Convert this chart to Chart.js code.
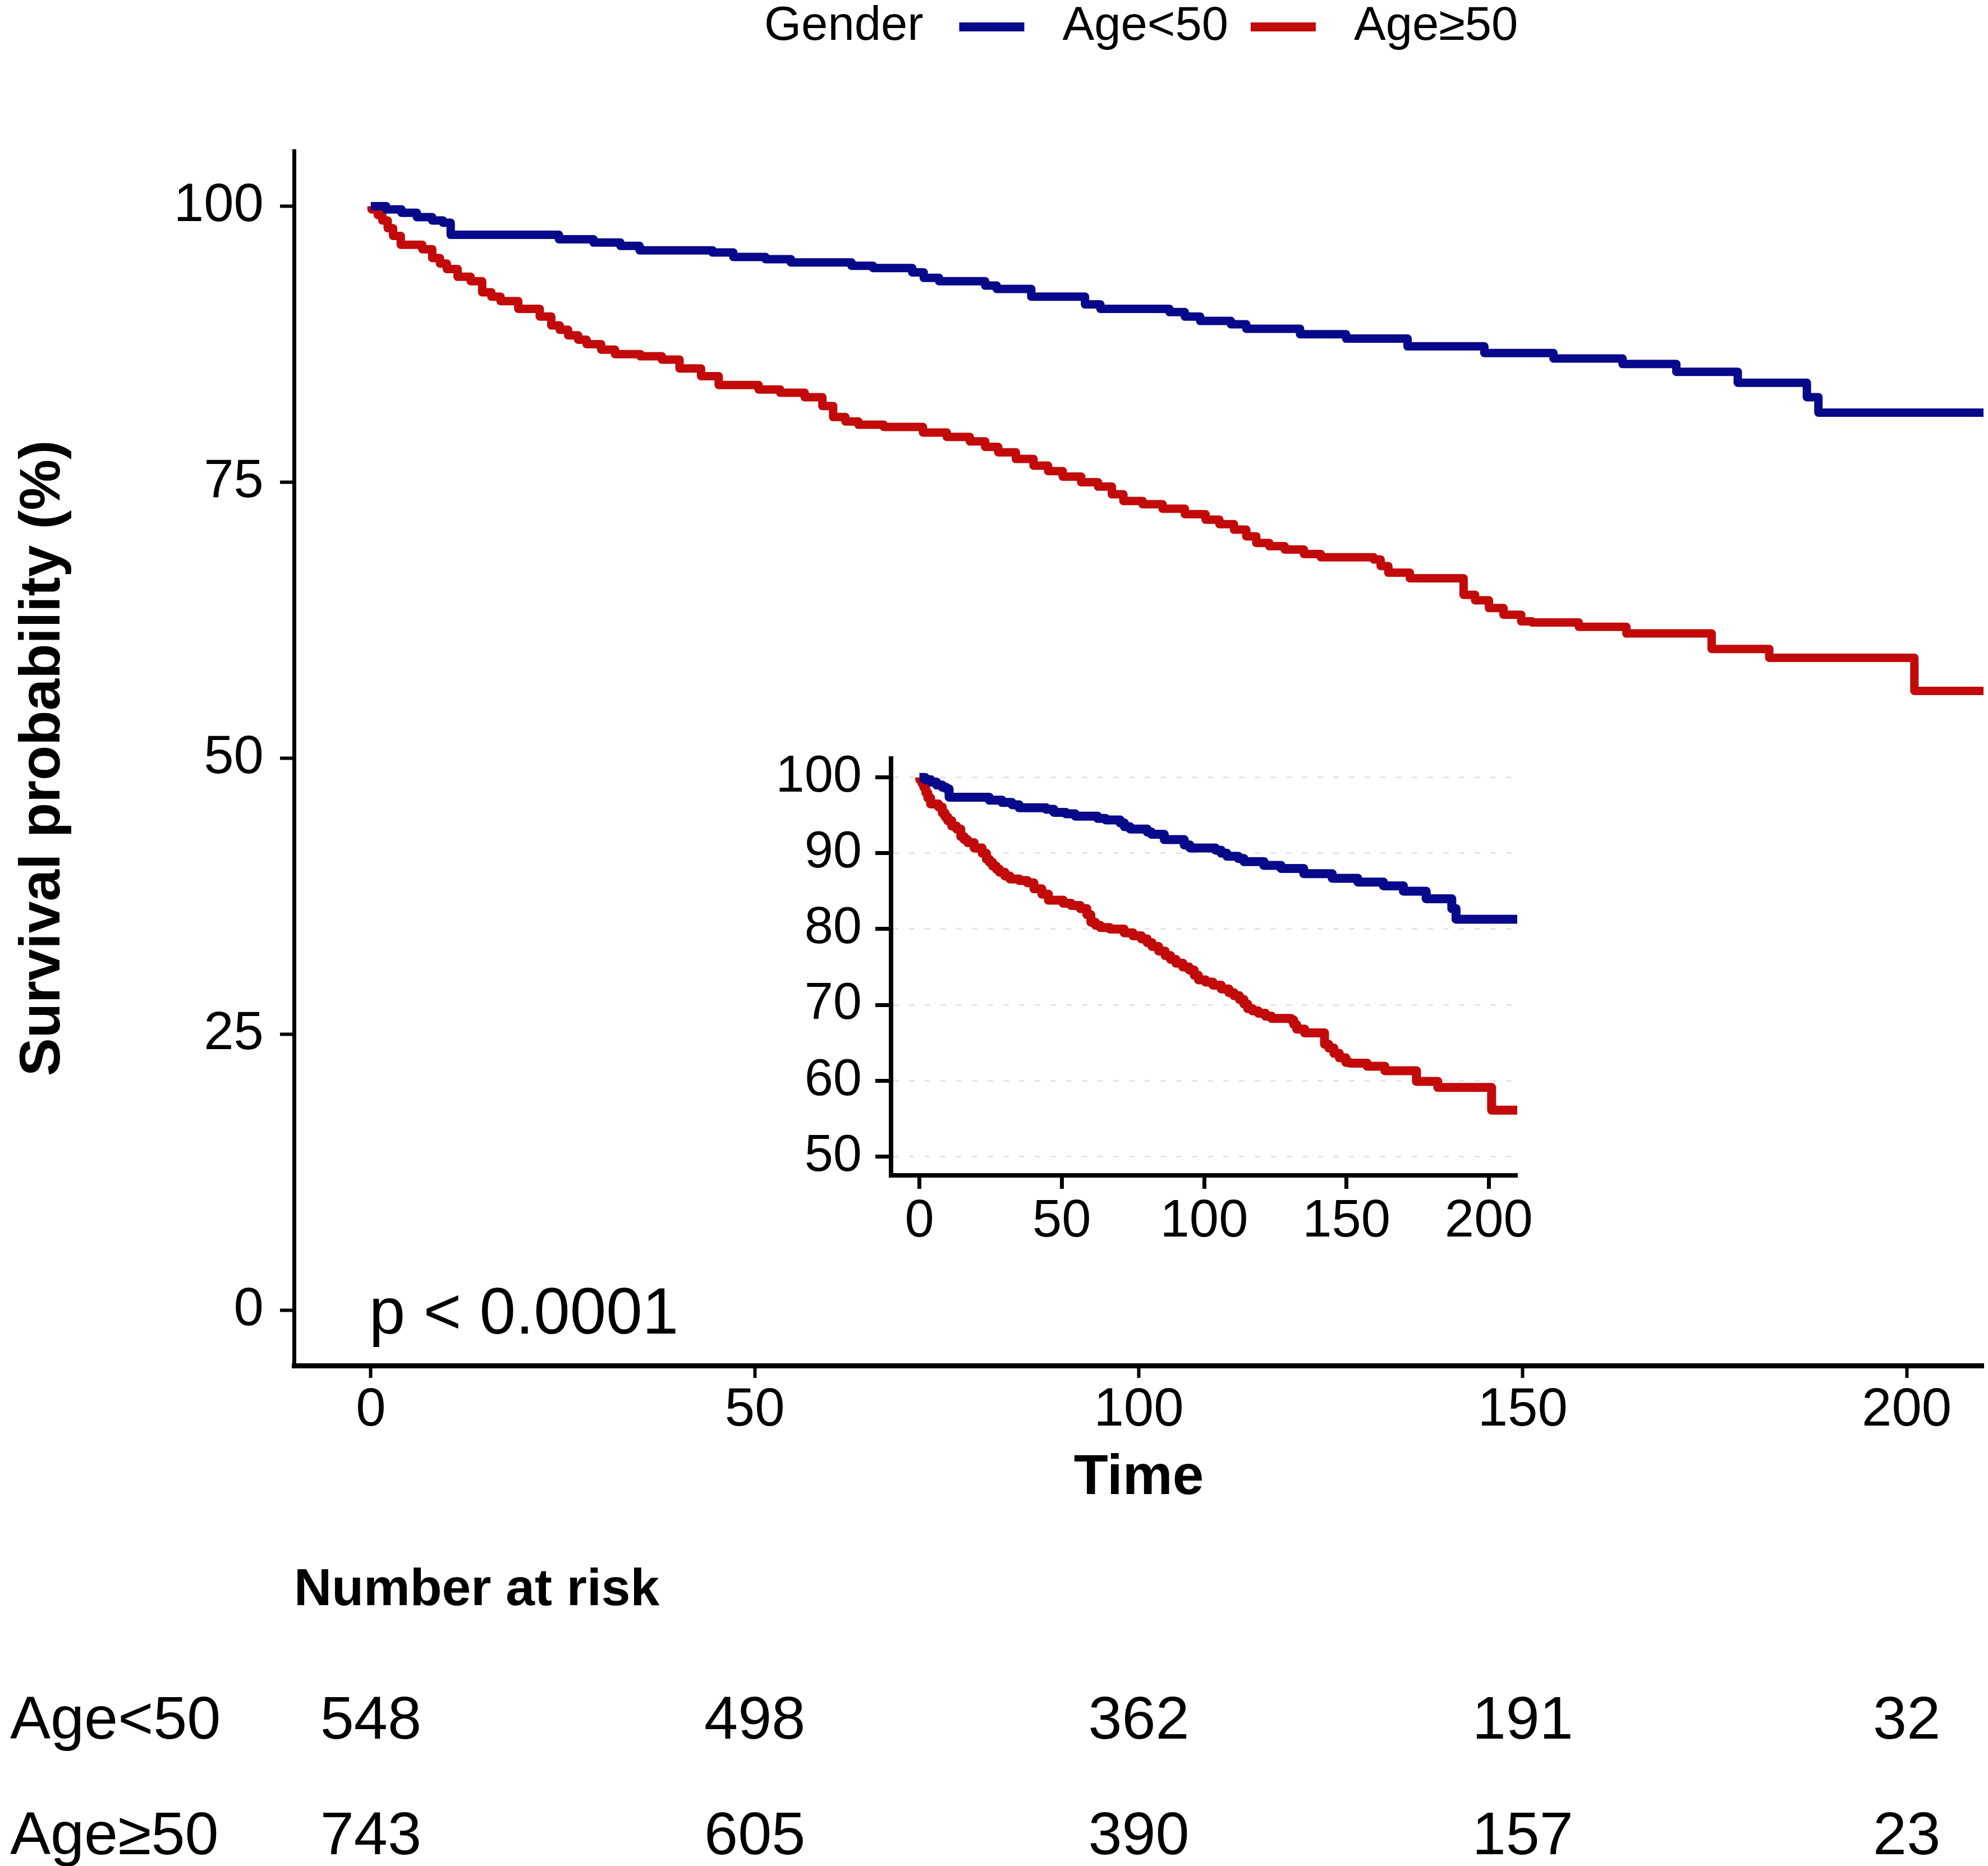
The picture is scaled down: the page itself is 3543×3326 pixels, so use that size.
<!DOCTYPE html>
<html>
<head>
<meta charset="utf-8">
<script src="https://cdn.jsdelivr.net/npm/chart.js@4.4.1/dist/chart.umd.min.js"></script>
<style>
  html, body { margin: 0; padding: 0; background: #fff; }
  #wrap { position: relative; width: 3543px; height: 3326px; }
  #main { position: absolute; left: 0; top: 0; }
  #inset { position: absolute; left: 1380px; top: 1300px; }
</style>
</head>
<body>
<div id="wrap">
  <canvas id="main" width="3543" height="3326"></canvas>
  <canvas id="inset" width="1420" height="950"></canvas>
</div>
<script>
// groups and colours
const groups = ["Age<50", "Age\u226550"];
const colors = ["#08088a", "#c20a0a"];
const legendTitle = "Gender";

// survival curves (time, survival %)
const blueTime = [0, 2, 4, 6, 8, 9.4, 10.4, 24.5, 29, 32.5, 35, 44.5, 47.2, 51.4, 54.7, 62.6, 65.4, 70.5, 72, 74,
  80, 81.5, 86, 93, 95, 104, 106, 108, 112, 114, 121, 127, 135, 145, 154, 163, 170, 178, 187, 188.5, 210];
const blueSurv = [100, 99.7, 99.4, 99.0, 98.7, 98.5, 97.4, 97.0, 96.7, 96.4, 96.0, 95.8, 95.4, 95.2, 94.9, 94.6, 94.4, 94.0, 93.5, 93.2,
  92.8, 92.5, 91.8, 91.1, 90.7, 90.4, 90.0, 89.6, 89.3, 88.9, 88.4, 88.0, 87.3, 86.7, 86.2, 85.7, 85.0, 84.0, 82.7, 81.3, 81.3];

const redTime = [0, 0.1, 0.9, 1.5, 2.2, 2.9, 3.9, 6.7, 8.0, 9.0, 9.9, 11.3, 13.0, 14.5, 15.7, 16.9, 19.2, 22.0, 23.5, 24.6,
  25.7, 27.0, 28.1, 30.0, 31.8, 35.1, 37.9, 40.2, 43.0, 45.3, 50.5, 53.3, 56.5, 58.8, 60.2, 61.8, 63.5, 66.8, 71.9, 75.0,
  78.0, 80.0, 81.7, 84.0, 86.3, 88.2, 90.1, 92.5, 94.7, 96.5, 98.0, 100.5, 103.1, 106.0, 108.7, 110.5, 112.4, 114.0, 115.3, 117.0,
  119.0, 121.5, 123.7, 130.6, 131.5, 132.5, 135.3, 142.3, 143.8, 145.6, 147.5, 149.8, 151.2, 157.3, 163.5, 174.6, 182.1, 201.0, 210];
const redSurv = [100, 99.7, 99.2, 98.7, 98.0, 97.3, 96.5, 96.1, 95.3, 94.8, 94.3, 93.6, 93.2, 92.2, 91.8, 91.4, 90.7, 90.0, 89.2, 88.8,
  88.3, 87.9, 87.5, 87.0, 86.6, 86.4, 86.1, 85.3, 84.6, 83.8, 83.4, 83.1, 82.7, 81.9, 80.9, 80.5, 80.2, 80.0, 79.5, 79.1,
  78.7, 78.2, 77.7, 77.1, 76.5, 76.0, 75.5, 75.0, 74.6, 73.9, 73.3, 73.0, 72.6, 72.1, 71.6, 71.2, 70.7, 70.1, 69.5, 69.2,
  68.9, 68.5, 68.2, 68.0, 67.4, 66.8, 66.3, 64.8, 64.3, 63.6, 63.0, 62.4, 62.3, 61.9, 61.3, 59.9, 59.1, 56.1, 56.1];

// number at risk table
const riskTimes = [0, 50, 100, 150, 200];
const riskYoung = [548, 498, 362, 191, 32];
const riskOld = [743, 605, 390, 157, 23];

// ticks
const xTicks = [0, 50, 100, 150, 200];
const yTicks = [0, 25, 50, 75, 100];
const insetYTicks = [50, 60, 70, 80, 90, 100];
const pText = "p < 0.0001";

const FONT = "'Liberation Sans', Arial, sans-serif";
Chart.defaults.font.family = FONT;
Chart.defaults.color = "#000";

function toPoints(t, s) {
  return t.map((v, i) => ({ x: v, y: s[i] }));
}

function makeDatasets(width) {
  return [
    { label: groups[0], data: toPoints(blueTime, blueSurv) },
    { label: groups[1], data: toPoints(redTime, redSurv) }
  ].map((d, i) => Object.assign(d, {
    borderColor: colors[i],
    borderWidth: width,
    stepped: "before",
    pointRadius: 0,
    borderJoinStyle: "round",
    fill: false
  }));
}

const fixTicks = (vals) => (s) => { s.ticks = vals.map(v => ({ value: v })); };
const fixSize = (key, size) => (s) => {
  s[key] = size;
  s.paddingTop = 0; s.paddingBottom = 0; s.paddingLeft = 0; s.paddingRight = 0;
};

// extra text: p value, legend, risk table
const extras = {
  id: "extras",
  afterDraw(chart) {
    const ctx = chart.ctx;
    const x = chart.scales.x;
    const y = chart.scales.y;
    ctx.save();
    ctx.fillStyle = "#000";
    ctx.textBaseline = "alphabetic";

    ctx.font = "116px " + FONT;
    ctx.textAlign = "left";
    ctx.fillText(pText, x.getPixelForValue(0) - 3, y.getPixelForValue(0) + 41);

    // legend on top
    ctx.font = "85px " + FONT;
    ctx.textBaseline = "middle";
    let lx = 1362;
    const ly = 48;
    ctx.fillText(legendTitle, lx, ly);
    lx += ctx.measureText(legendTitle).width + 64;
    groups.forEach((g, i) => {
      ctx.strokeStyle = colors[i];
      ctx.lineWidth = 16;
      ctx.beginPath();
      ctx.moveTo(lx, ly);
      ctx.lineTo(lx + 116, ly);
      ctx.stroke();
      lx += 116 + 68;
      ctx.fillText(g, lx, ly);
      lx += ctx.measureText(g).width + 40;
    });

    // number at risk
    ctx.textBaseline = "alphabetic";
    ctx.font = "bold 93px " + FONT;
    ctx.fillText("Number at risk", chart.chartArea.left, 2861);
    ctx.font = "108px " + FONT;
    [riskYoung, riskOld].forEach((row, r) => {
      const base = [3099, 3305][r];
      ctx.textAlign = "left";
      ctx.fillText(groups[r], 18, base);
      ctx.textAlign = "center";
      row.forEach((n, i) => ctx.fillText(String(n), x.getPixelForValue(riskTimes[i]), base));
    });
    ctx.restore();
  }
};

new Chart(document.getElementById("main"), {
  type: "line",
  data: { datasets: makeDatasets(15) },
  options: {
    responsive: false,
    animation: false,
    devicePixelRatio: 1,
    layout: { padding: { top: 269, right: 8, left: 0, bottom: 631 } },
    plugins: { legend: { display: false }, tooltip: { enabled: false } },
    scales: {
      x: {
        type: "linear",
        min: -10,
        max: 210,
        afterBuildTicks: fixTicks(xTicks),
        afterFit: fixSize("height", 261),
        grid: { display: true, drawOnChartArea: false, drawTicks: true, tickLength: 22, tickColor: "#000", tickWidth: 6 },
        border: { display: true, color: "#000", width: 9 },
        ticks: { font: { size: 96, lineHeight: 1 }, padding: 11, color: "#000", maxRotation: 0 },
        title: { display: true, text: "Time", font: { size: 100, weight: "bold", lineHeight: 1.2 }, padding: 0, color: "#000" }
      },
      y: {
        type: "linear",
        min: -5,
        max: 105,
        afterBuildTicks: fixTicks(yTicks),
        afterFit: fixSize("width", 524),
        grid: { display: true, drawOnChartArea: false, drawTicks: true, tickLength: 25, tickColor: "#000", tickWidth: 6 },
        border: { display: true, color: "#000", width: 7 },
        ticks: { font: { size: 96 }, padding: 29, color: "#000" },
        title: { display: true, text: "Survival probability (%)", font: { size: 102, weight: "bold", lineHeight: 1.2 }, padding: { top: 17, bottom: 0 }, color: "#000" }
      }
    }
  },
  plugins: [extras]
});

// zoomed inset
new Chart(document.getElementById("inset"), {
  type: "line",
  data: { datasets: makeDatasets(16) },
  options: {
    responsive: false,
    animation: false,
    devicePixelRatio: 1,
    layout: { padding: { top: 52, right: 96, left: 0, bottom: 0 } },
    plugins: { legend: { display: false }, tooltip: { enabled: false } },
    scales: {
      x: {
        type: "linear",
        min: -10,
        max: 210,
        afterBuildTicks: fixTicks(xTicks),
        afterFit: fixSize("height", 155),
        grid: { display: true, drawOnChartArea: false, drawTicks: true, tickLength: 24, tickColor: "#000", tickWidth: 7 },
        border: { display: true, color: "#000", width: 8 },
        ticks: { font: { size: 94, lineHeight: 1 }, padding: 12, color: "#000", maxRotation: 0 }
      },
      y: {
        type: "linear",
        min: 47.5,
        max: 102.5,
        afterBuildTicks: fixTicks(insetYTicks),
        afterFit: fixSize("width", 208),
        grid: { display: true, drawOnChartArea: true, drawTicks: true, color: "#e9e4e4", lineWidth: 3, tickLength: 28, tickColor: "#000", tickWidth: 7 },
        border: { display: true, color: "#000", width: 8, dash: [10, 18] },
        ticks: { font: { size: 92 }, padding: 24, color: "#000" }
      }
    }
  }
});
</script>
</body>
</html>
